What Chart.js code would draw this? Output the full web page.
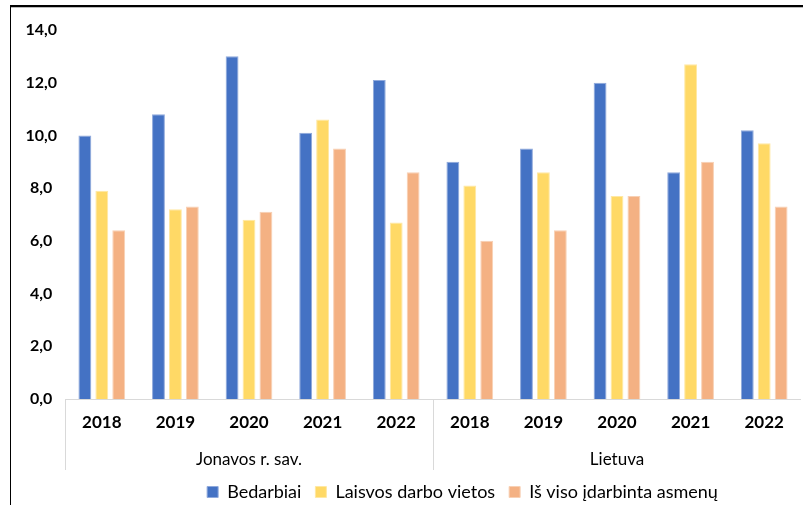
<!DOCTYPE html>
<html>
<head>
<meta charset="utf-8">
<script src="https://cdn.jsdelivr.net/npm/chart.js@4.4.0/dist/chart.umd.min.js"></script>
<style>
  html, body { margin: 0; padding: 0; background: #fff; }
  #wrap { position: relative; width: 803px; height: 505px; overflow: hidden; }
  #frame { position: absolute; left: 10px; top: 5px; right: -2px; bottom: -2px;
           border-left: 1.5px solid #000; border-top: 2px solid #000; box-shadow: inset 0 1px 0 #bbb; }
  canvas { position: absolute; left: 0; top: 0; }
</style>
</head>
<body>
<div id="wrap">
  <div id="frame"></div>
  <canvas id="chart" width="803" height="505"></canvas>
</div>
<script>
const years = ['2018', '2019', '2020', '2021', '2022', '2018', '2019', '2020', '2021', '2022'];
const groups = ['Jonavos r. sav.', 'Lietuva'];
const bedarbiai = [10.0, 10.8, 13.0, 10.1, 12.1, 9.0, 9.5, 12.0, 8.6, 10.2];
const laisvos = [7.9, 7.2, 6.8, 10.6, 6.7, 8.1, 8.6, 7.7, 12.7, 9.7];
const idarbinta = [6.4, 7.3, 7.1, 9.5, 8.6, 6.0, 6.4, 7.7, 9.0, 7.3];
const yTicks = [0, 2, 4, 6, 8, 10, 12, 14];

const family = 'Lato, "Open Sans", sans-serif';

// group separators under the category axis
const separators = {
  id: 'separators',
  afterDraw(chart) {
    const x = chart.scales.x;
    const ctx = chart.ctx;
    const half = (x.getPixelForValue(1) - x.getPixelForValue(0)) / 2;
    const bottom = chart.chartArea.bottom;
    ctx.save();
    ctx.strokeStyle = '#d9d9d9';
    ctx.lineWidth = 1;
    [0, 5].forEach((i) => {
      const px = Math.round(x.getPixelForValue(i) - half) + 0.5;
      ctx.beginPath();
      ctx.moveTo(px, bottom);
      ctx.lineTo(px, bottom + 71);
      ctx.stroke();
    });
    ctx.beginPath();
    ctx.moveTo(x.left, bottom + 0.5);
    ctx.lineTo(x.right, bottom + 0.5);
    ctx.stroke();
    ctx.restore();
  }
};

// keep the wide legend spacing but a short legend box, shifted right like the original
const legendBox = {
  id: 'legendBox',
  beforeInit(chart) {
    const fit = chart.legend.fit;
    chart.legend.fit = function () {
      fit.call(this);
      this.height = 36;
    };
  },
  afterLayout(chart) {
    chart.legend.left += 56;
    chart.legend.right += 56;
  }
};

const barStyle = { categoryPercentage: 0.69, barPercentage: 0.76, borderWidth: 1 };

new Chart(document.getElementById('chart'), {
  type: 'bar',
  plugins: [separators, legendBox],
  data: {
    labels: years,
    datasets: [
      { label: 'Bedarbiai', data: bedarbiai, backgroundColor: '#4472C4', borderColor: '#8FA9DC', ...barStyle },
      { label: 'Laisvos darbo vietos', data: laisvos, backgroundColor: '#FFD966', borderColor: '#FFE8A3', ...barStyle },
      { label: 'Iš viso įdarbinta asmenų', data: idarbinta, backgroundColor: '#F4B183', borderColor: '#F8D0B4', ...barStyle },
    ],
  },
  options: {
    responsive: false,
    animation: false,
    layout: { padding: { left: 12, right: 2, top: 30, bottom: 0 } },
    plugins: {
      tooltip: { enabled: false },
      legend: {
        position: 'bottom',
        labels: {
          color: '#000',
          font: { family: family, size: 18 },
          boxWidth: 11,
          boxHeight: 11,
          padding: 14,
        },
      },
    },
    scales: {
      y: {
        min: 0,
        max: 14,
        afterFit: (s) => { s.width = 53; },
        afterBuildTicks: (s) => { s.ticks = yTicks.map((v) => ({ value: v })); },
        grid: { display: false, drawTicks: false },
        border: { display: false },
        ticks: {
          color: '#000',
          font: { family: family, size: 16, weight: 'bold' },
          crossAlign: 'center',
          padding: 8,
          callback: (v) => v.toFixed(1).replace('.', ','),
        },
      },
      x: {
        afterFit: (s) => { s.height = 41; },
        grid: { display: false, drawTicks: false },
        border: { display: false },
        ticks: { color: '#000', font: { family: family, size: 17, weight: 'bold' }, padding: 13, maxRotation: 0 },
      },
      x2: {
        type: 'category',
        labels: groups,
        position: 'bottom',
        afterFit: (s) => { s.height = 29; },
        grid: { display: false, drawTicks: false },
        border: { display: false },
        ticks: { color: '#000', font: { family: family, size: 17 }, padding: 9 },
      },
    },
  },
});
</script>
</body>
</html>
